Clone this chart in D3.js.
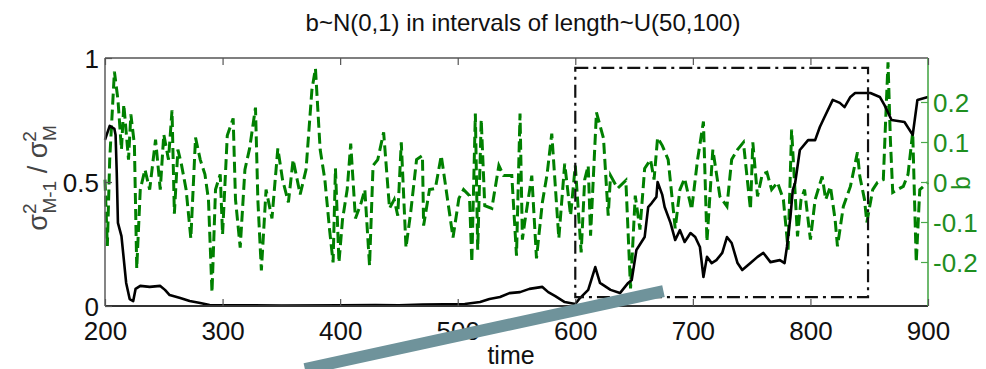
<!DOCTYPE html>
<html>
<head>
<meta charset="utf-8">
<script src="https://cdn.jsdelivr.net/npm/d3@7"></script>
<style>
  html, body { margin: 0; padding: 0; background: #ffffff; }
  svg { display: block; }
  text { font-family: "Liberation Sans", Arial, Helvetica, sans-serif; }
</style>
</head>
<body>
<svg id="chart" width="986" height="369"></svg>
<script>
// ---------------- data ----------------
const titleText = "b~N(0,1) in intervals of length~U(50,100)";
const xTicks = [200, 300, 400, 500, 600, 700, 800, 900];
const yLeftTicks = [0, 0.5, 1];
const yLeftTickLabels = ["0", "0.5", "1"];
const yRightTicks = [-0.2, -0.1, 0, 0.1, 0.2];
const yRightTickLabels = ["-0.2", "-0.1", "0", "0.1", "0.2"];

// black line: sigma^2_{M-1} / sigma^2_M
const sigmaTime = [200,202,204,208,209,210,211,214,218,221,224,226,230,238,247,251,255,264,272,281,289,
  300,350,400,430,450,470,506,519,527,536,544,553,561,572,577,583,591,600,604,611,617,621,630,638,645,648,
  652,659,662,665,669,670,674,676,681,685,689,693,698,702,706,709,712,716,720,725,729,733,738,742,749,755,
  760,766,774,778,780,783,785,787,791,798,804,808,812,819,825,829,834,838,851,859,863,869,880,887,891,900];
const sigmaVal = [0.67,0.698,0.726,0.714,0.69,0.536,0.335,0.282,0.093,0.028,0.02,0.069,0.081,0.077,0.081,0.065,0.044,0.032,0.02,0.012,0.004,
  0.003,0.002,0.003,0.004,0.003,0.006,0.008,0.016,0.028,0.036,0.052,0.056,0.069,0.077,0.056,0.04,0.016,0.008,0.032,0.065,0.157,0.093,0.065,0.052,0.093,0.105,
  0.226,0.278,0.399,0.415,0.44,0.5,0.448,0.399,0.335,0.266,0.306,0.258,0.294,0.278,0.238,0.117,0.198,0.173,0.185,0.214,0.278,0.254,0.173,0.145,0.173,0.198,
  0.214,0.177,0.185,0.173,0.238,0.359,0.468,0.496,0.629,0.669,0.669,0.722,0.762,0.831,0.819,0.802,0.843,0.859,0.859,0.843,0.81,0.75,0.742,0.69,0.831,0.843];

// green dashed line: b
const bTime = [200,202,204,208,211,214,216,220,222,225,227,230,234,238,243,247,250,254,257,259,262,265,269,273,277,281,285,288,291,294,298,
  300,304,309,311,315,319,323,328,330,333,337,342,347,351,356,360,366,371,376,379,383,387,391,394,396,399,
  402,406,409,413,418,421,425,428,432,437,442,446,449,452,456,460,465,470,471,476,481,486,490,496,
  501,505,510,512,515,517,520,523,529,535,539,546,550,553,555,557,563,567,572,576,580,586,591,596,
  600,605,608,611,613,618,624,628,630,636,643,647,651,655,659,664,667,670,674,679,685,689,693,699,
  704,709,712,717,723,729,733,738,743,749,751,755,759,763,767,772,777,781,784,789,792,795,
  800,804,810,813,817,821,823,828,834,840,842,846,848,853,857,862,864,866,868,870,874,879,883,887,890,893,900];
const bVal = [0.006,-0.16,0.056,0.276,0.206,0.081,0.194,0.056,0.169,0.094,-0.216,-0.019,0.031,-0.019,0.106,-0.019,0.119,0.056,0.179,-0.079,0.081,0.044,-0.019,-0.141,0.111,0.056,0.019,-0.044,-0.276,-0.019,0.019,
  -0.131,0.116,0.159,-0.044,-0.164,0.031,0.084,0.186,-0.044,-0.221,-0.019,-0.091,0.084,0.006,-0.051,0.056,-0.031,0.031,0.231,0.284,0.081,0.006,-0.119,-0.201,0.034,-0.201,
  -0.094,-0.019,0.096,-0.091,-0.051,-0.019,-0.209,0.041,0.056,0.124,-0.066,-0.044,-0.084,0.099,-0.164,-0.076,0.056,0.066,-0.109,-0.019,-0.016,0.066,-0.016,-0.139,
  -0.041,-0.019,-0.034,-0.201,0.171,-0.169,0.156,-0.059,-0.066,0.041,0.016,0.016,-0.184,0.171,-0.144,-0.101,0.016,-0.191,-0.051,0.019,0.121,-0.141,0.046,-0.084,
  0.041,-0.176,0.006,0.041,-0.134,0.174,0.109,-0.084,0.016,-0.016,0.004,-0.266,-0.034,-0.119,0.034,0.056,0.006,0.111,0.091,0.056,-0.116,-0.019,0.009,-0.069,
  0.056,0.151,-0.149,0.081,-0.036,-0.061,0.056,0.081,0.099,-0.069,0.099,-0.036,0.019,0.024,-0.019,-0.001,-0.044,-0.169,0.131,-0.136,-0.044,-0.019,
  -0.144,-0.044,0.014,-0.044,-0.011,-0.094,-0.161,-0.061,-0.011,0.074,0.014,-0.044,-0.101,-0.019,-0.001,0.006,0.156,0.299,0.106,-0.026,-0.019,-0.011,0.019,0.124,-0.201,-0.019,-0.001];

// dash-dot highlight box (time range, left-axis value range)
const boxTime = [600, 849];
const boxVal = [0.036, 0.96];

// overlay annotation stroke (time, left-axis value)
const noteTime = [370, 675];
const noteVal = [-0.254, 0.06];

// ---------------- drawing ----------------
const svg = d3.select("#chart");
const plot = {left: 105, right: 928, top: 58, bottom: 306};

const x = d3.scaleLinear().domain([200, 900]).range([plot.left, plot.right]);
const yL = d3.scaleLinear().domain([0, 1]).range([plot.bottom, plot.top]);
const yR = d3.scaleLinear().domain([-0.31, 0.31]).range([plot.bottom, plot.top]);

const green = "#008000";
const greenAxis = "#1f8f1f";

// green b series
const bData = bTime.map((t, i) => [t, bVal[i]]);
svg.append("path")
  .datum(bData)
  .attr("d", d3.line().x(d => x(d[0])).y(d => yR(d[1])))
  .attr("fill", "none")
  .attr("stroke", green)
  .attr("stroke-width", 3)
  .attr("stroke-dasharray", "11,5")
  .attr("stroke-linejoin", "miter");

// black sigma ratio series
const sData = sigmaTime.map((t, i) => [t, sigmaVal[i]]);
svg.append("path")
  .datum(sData)
  .attr("d", d3.line().x(d => x(d[0])).y(d => yL(d[1])))
  .attr("fill", "none")
  .attr("stroke", "#000")
  .attr("stroke-width", 2.6)
  .attr("stroke-linejoin", "round");

// dash-dot box
svg.append("rect")
  .attr("x", x(boxTime[0]))
  .attr("y", yL(boxVal[1]))
  .attr("width", x(boxTime[1]) - x(boxTime[0]))
  .attr("height", yL(boxVal[0]) - yL(boxVal[1]))
  .attr("fill", "none")
  .attr("stroke", "#111")
  .attr("stroke-width", 2.2)
  .attr("stroke-dasharray", "13,5,3,5");

// frame
const frame = svg.append("g");
frame.append("line").attr("x1", plot.left).attr("x2", plot.right).attr("y1", plot.top).attr("y2", plot.top)
  .attr("stroke", "#555").attr("stroke-width", 1.6);
frame.append("line").attr("x1", plot.left).attr("x2", plot.right).attr("y1", plot.bottom).attr("y2", plot.bottom)
  .attr("stroke", "#333").attr("stroke-width", 2);
frame.append("line").attr("x1", plot.left).attr("x2", plot.left).attr("y1", plot.top).attr("y2", plot.bottom)
  .attr("stroke", "#666").attr("stroke-width", 1.6);
frame.append("line").attr("x1", plot.right).attr("x2", plot.right).attr("y1", plot.top).attr("y2", plot.bottom)
  .attr("stroke", "#4aa84a").attr("stroke-width", 1.6);

// x axis (ticks inside, top and bottom)
const xAxisB = d3.axisBottom(x).tickValues(xTicks).tickSizeInner(-7).tickSizeOuter(0).tickPadding(16).tickFormat(d3.format("d"));
const gxb = svg.append("g").attr("transform", `translate(0,${plot.bottom})`).call(xAxisB);
gxb.select(".domain").remove();
gxb.selectAll(".tick line").attr("stroke", "#555").attr("stroke-width", 1.2);
gxb.selectAll(".tick text").attr("font-size", 26).attr("fill", "#111")
  .attr("font-family", "'Liberation Sans', Arial, sans-serif");

const xAxisT = d3.axisTop(x).tickValues(xTicks).tickSizeInner(-7).tickSizeOuter(0).tickFormat("");
const gxt = svg.append("g").attr("transform", `translate(0,${plot.top})`).call(xAxisT);
gxt.select(".domain").remove();
gxt.selectAll(".tick line").attr("stroke", "#555").attr("stroke-width", 1.2);

// left y axis
const yAxisL = d3.axisLeft(yL).tickValues(yLeftTicks).tickSizeInner(-7).tickSizeOuter(0).tickPadding(6)
  .tickFormat((d, i) => yLeftTickLabels[i]);
const gyl = svg.append("g").attr("transform", `translate(${plot.left},0)`).call(yAxisL);
gyl.select(".domain").remove();
gyl.selectAll(".tick line").attr("stroke", "#555").attr("stroke-width", 1.2);
gyl.selectAll(".tick text").attr("font-size", 26).attr("fill", "#111").attr("dy", "0.38em")
  .attr("font-family", "'Liberation Sans', Arial, sans-serif");

// right y axis (green)
const yAxisR = d3.axisRight(yR).tickValues(yRightTicks).tickSizeInner(-7).tickSizeOuter(0).tickPadding(5)
  .tickFormat((d, i) => yRightTickLabels[i]);
const gyr = svg.append("g").attr("transform", `translate(${plot.right},0)`).call(yAxisR);
gyr.select(".domain").remove();
gyr.selectAll(".tick line").attr("stroke", "#4aa84a").attr("stroke-width", 1.2);
gyr.selectAll(".tick text").attr("font-size", 26).attr("fill", greenAxis).attr("dy", "0.36em")
  .attr("font-family", "'Liberation Sans', Arial, sans-serif");

// title
svg.append("text")
  .attr("x", 523).attr("y", 31)
  .attr("text-anchor", "middle")
  .attr("font-size", 24)
  .attr("fill", "#111")
  .text(titleText);

// x label
svg.append("text")
  .attr("x", 511).attr("y", 364)
  .attr("text-anchor", "middle")
  .attr("font-size", 25)
  .attr("fill", "#111")
  .text("time");

// left y label: sigma^2_{M-1} / sigma^2_M
const yl = svg.append("text")
  .attr("transform", "translate(47,178) rotate(-90)")
  .attr("text-anchor", "middle")
  .attr("font-size", 27)
  .attr("fill", "#444");
yl.append("tspan").text("σ");
yl.append("tspan").attr("font-size", 19).attr("dy", -11).text("2");
yl.append("tspan").attr("font-size", 19).attr("dx", -10).attr("dy", 20).text("M-1");
yl.append("tspan").attr("dy", -9).text(" / σ");
yl.append("tspan").attr("font-size", 19).attr("dy", -11).text("2");
yl.append("tspan").attr("font-size", 19).attr("dx", -10).attr("dy", 20).text("M");

// right y label
svg.append("text")
  .attr("transform", "translate(970,183) rotate(-90)")
  .attr("text-anchor", "middle")
  .attr("font-size", 25)
  .attr("fill", greenAxis)
  .text("b");

// overlay annotation stroke
svg.append("line")
  .attr("x1", x(noteTime[0])).attr("y1", yL(noteVal[0]))
  .attr("x2", x(noteTime[1])).attr("y2", yL(noteVal[1]))
  .attr("stroke", "#6f939b")
  .attr("stroke-width", 12);
</script>
</body>
</html>
